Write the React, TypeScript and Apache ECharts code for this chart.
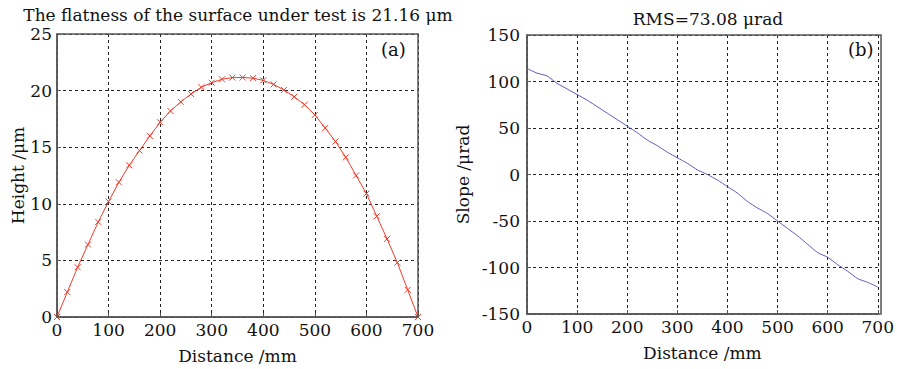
import React, { useEffect, useRef } from "react";
import * as echarts from "echarts";

const distances = [0, 20, 40, 60, 80, 100, 120, 140, 160, 180, 200, 220, 240, 260, 280, 300, 320, 340, 360, 380, 400, 420, 440, 460, 480, 500, 520, 540, 560, 580, 600, 620, 640, 660, 680, 700];
const heights = [0, 2.2, 4.4, 6.4, 8.4, 10.2, 11.9, 13.4, 14.7, 16.0, 17.2, 18.2, 19.0, 19.7, 20.3, 20.7, 21.0, 21.15, 21.16, 21.1, 20.9, 20.55, 20.05, 19.45, 18.75, 17.85, 16.7, 15.5, 14.1, 12.5, 10.9, 8.9, 6.9, 4.8, 2.4, 0];
const slopes = [114, 109, 106, 98, 92, 86, 80, 73, 66, 59, 52, 45, 37, 31, 24, 18, 12, 5, 0, -6, -13, -20, -29, -36, -42, -50, -58, -66, -75, -84, -89, -97, -104, -112, -116, -121];

const titleA = "The flatness of the surface under test is 21.16 μm";
const titleB = "RMS=73.08 μrad";
const xName = "Distance /mm";
const yNameA = "Height /μm";
const yNameB = "Slope /μrad";

const FONT = "DejaVu Serif";

export default function App() {
  const ref = useRef<HTMLDivElement>(null);
  useEffect(() => {
    if (!ref.current) return;
    const chart = echarts.init(ref.current, null, { renderer: "svg" });
    const gridLine = { show: true, lineStyle: { color: "#222", type: [3, 3] as any, width: 1 } };
    const axisLine = { show: true, onZero: false, lineStyle: { color: "#555", width: 1.5 } };
    const tick = { show: true, inside: true, length: 4, lineStyle: { color: "#555" } };
    const label = { color: "#111", fontFamily: FONT, fontSize: 17 };
    const nameStyle = { color: "#111", fontFamily: FONT, fontSize: 17 };
    const mkX = (gridIndex: number) => ({
      type: "value" as const,
      gridIndex,
      min: 0,
      max: 700,
      interval: 100,
      name: xName,
      nameLocation: "middle" as const,
      nameGap: 30,
      nameTextStyle: nameStyle,
      axisLine,
      axisTick: tick,
      axisLabel: { ...label, margin: 4 },
      splitLine: gridLine,
    });
    chart.setOption({
      animation: false,
      backgroundColor: "#fff",
      title: [
        { text: titleA, left: 233, textAlign: "center", top: 1, textStyle: { fontFamily: FONT, fontSize: 17, fontWeight: "normal", color: "#111" } },
        { text: titleB, left: 703, textAlign: "center", top: 5, textStyle: { fontFamily: FONT, fontSize: 17, fontWeight: "normal", color: "#111" } },
      ],
      graphic: [
        { type: "text", left: 381, top: 40, style: { text: "(a)", font: `18px '${FONT}'`, fill: "#111" } },
        { type: "text", left: 848, top: 40, style: { text: "(b)", font: `18px '${FONT}'`, fill: "#111" } },
        { type: "rect", shape: { x: 57, y: 34, width: 361, height: 283 }, style: { fill: "none", stroke: "#555", lineWidth: 1.5 }, silent: true, z: 10 },
        { type: "rect", shape: { x: 527, y: 35, width: 354, height: 279 }, style: { fill: "none", stroke: "#555", lineWidth: 1.5 }, silent: true, z: 10 },
      ],
      grid: [
        { left: 57, right: 479, top: 34, bottom: 52 },
        { left: 527, right: 16, top: 35, bottom: 55 },
      ],
      xAxis: [mkX(0), mkX(1)],
      yAxis: [
        {
          type: "value",
          gridIndex: 0,
          min: 0,
          max: 25,
          interval: 5,
          name: yNameA,
          nameLocation: "middle",
          nameGap: 27,
          nameTextStyle: nameStyle,
          axisLine,
          axisTick: tick,
          axisLabel: { ...label, margin: 5 },
          splitLine: gridLine,
        },
        {
          type: "value",
          gridIndex: 1,
          min: -150,
          max: 150,
          interval: 50,
          name: yNameB,
          nameLocation: "middle",
          nameGap: 56,
          nameTextStyle: nameStyle,
          axisLine,
          axisTick: tick,
          axisLabel: { ...label, margin: 7 },
          splitLine: gridLine,
        },
      ],
      series: [
        {
          type: "line",
          xAxisIndex: 0,
          yAxisIndex: 0,
          data: distances.map((d, i) => [d, heights[i]]),
          symbol: "path://M0,0L10,10M10,0L0,10",
          symbolSize: 6,
          showSymbol: true,
          lineStyle: { color: "#f03c2a", width: 1 },
          itemStyle: { color: "none", borderColor: "#f03c2a", borderWidth: 1 },
        },
        {
          type: "line",
          xAxisIndex: 1,
          yAxisIndex: 1,
          data: distances.map((d, i) => [d, slopes[i]]),
          showSymbol: false,
          symbol: "none",
          smooth: 0.2,
          lineStyle: { color: "#5b5bc0", width: 1 },
        },
      ],
    });
    return () => chart.dispose();
  }, []);
  return <div ref={ref} style={{ width: 897, height: 369, position: "absolute", left: 0, top: 0 }} />;
}
